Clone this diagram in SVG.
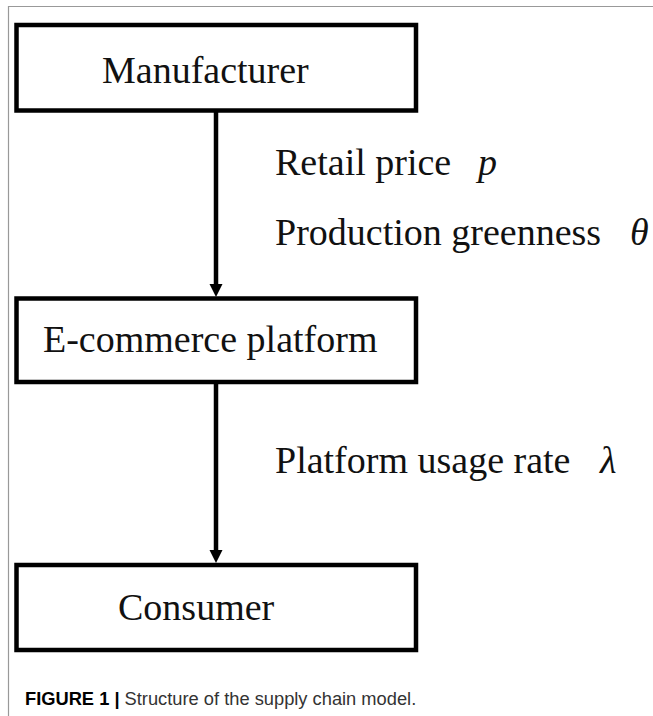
<svg xmlns="http://www.w3.org/2000/svg" width="653" height="716" viewBox="0 0 653 716">
<defs>
<style>
.box{fill:#fff;stroke:#000;stroke-width:4.5}
.t{font-family:'Liberation Serif','Times New Roman',serif;font-size:38px;fill:#111}
.i{font-style:italic}
.conn{stroke:#000;stroke-width:4.5;fill:none}
.head{fill:#000}
.cap{font-family:'Liberation Sans',Arial,sans-serif;font-size:18.3px;fill:#333}
</style>
</defs>
<rect width="653" height="716" fill="#fff"/>
<path d="M8.5,716 V6.5 H653" fill="none" stroke="#999" stroke-width="1.2"/>
<g id="connectors">
<line class="conn" x1="216" y1="110" x2="216" y2="286"/>
<path class="head" d="M209.5,284 L222.5,284 L216,297 Z"/>
<line class="conn" x1="216" y1="382" x2="216" y2="551"/>
<path class="head" d="M209.5,550 L222.5,550 L216,563 Z"/>
<text class="t" x="275" y="175">Retail price <tspan class="i" x="478">p</tspan></text>
<text class="t" x="275" y="245">Production greenness <tspan class="i" x="630">θ</tspan></text>
<text class="t" x="275" y="473">Platform usage rate <tspan class="i" x="600">λ</tspan></text>
</g>
<g id="manufacturer">
<rect class="box" x="16.5" y="25" width="399.5" height="85.5"/>
<text class="t" x="102" y="83">Manufacturer</text>
</g>
<g id="ecommerce">
<rect class="box" x="16.5" y="298.5" width="399.5" height="83.5"/>
<text class="t" x="43" y="352">E-commerce platform</text>
</g>
<g id="consumer">
<rect class="box" x="16.5" y="565" width="399.5" height="85"/>
<text class="t" x="118" y="620">Consumer</text>
</g>
<text class="cap" x="25" y="705"><tspan font-weight="bold" fill="#000">FIGURE 1 |</tspan> Structure of the supply chain model.</text>
</svg>
